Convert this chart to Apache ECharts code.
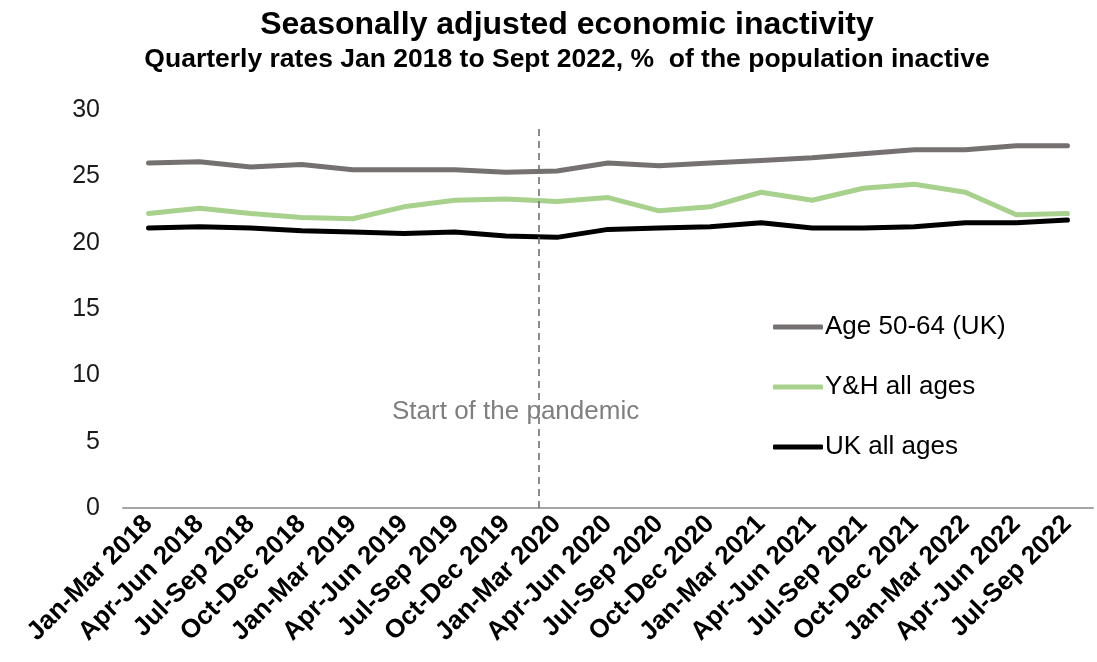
<!DOCTYPE html>
<html>
<head>
<meta charset="utf-8">
<script src="https://cdn.jsdelivr.net/npm/echarts@6/dist/echarts.min.js"></script>
<style>
  html, body { margin: 0; padding: 0; background: #ffffff; }
  #chart { width: 1097px; height: 662px; }
</style>
</head>
<body>
<div id="chart"></div>
<script>
// Quarter labels, Jan 2018 to Sep 2022
const quarters = [
  'Jan-Mar 2018', 'Apr-Jun 2018', 'Jul-Sep 2018', 'Oct-Dec 2018',
  'Jan-Mar 2019', 'Apr-Jun 2019', 'Jul-Sep 2019', 'Oct-Dec 2019',
  'Jan-Mar 2020', 'Apr-Jun 2020', 'Jul-Sep 2020', 'Oct-Dec 2020',
  'Jan-Mar 2021', 'Apr-Jun 2021', 'Jul-Sep 2021', 'Oct-Dec 2021',
  'Jan-Mar 2022', 'Apr-Jun 2022', 'Jul-Sep 2022'
];

// Inactivity rates, % of population
const age5064UK = [26.0, 26.1, 25.7, 25.9, 25.5, 25.5, 25.5, 25.3, 25.4, 26.0,
                   25.8, 26.0, 26.2, 26.4, 26.7, 27.0, 27.0, 27.3, 27.3];
const yhAllAges = [22.2, 22.6, 22.2, 21.9, 21.8, 22.7, 23.2, 23.3, 23.1, 23.4,
                   22.4, 22.7, 23.8, 23.2, 24.1, 24.4, 23.8, 22.1, 22.2];
const ukAllAges = [21.1, 21.2, 21.1, 20.9, 20.8, 20.7, 20.8, 20.5, 20.4, 21.0,
                   21.1, 21.2, 21.5, 21.1, 21.1, 21.2, 21.5, 21.5, 21.7];

const seriesNames = ['Age 50-64 (UK)', 'Y&H all ages', 'UK all ages'];
const yTicks = { min: 0, max: 30, step: 5 };

// Pandemic marker: position on the quarter scale (index units) and its height
const pandemicPos = 7.64;
const pandemicTop = 28.6;
const pandemicLabel = 'Start of the pandemic';

const FONT = '"Liberation Sans", Arial, sans-serif';
const colors = ['#767171', '#a9d18e', '#000000'];

const chart = echarts.init(document.getElementById('chart'), null, { renderer: 'canvas' });

const lineSeries = (name, data, color) => ({
  name: name,
  type: 'line',
  data: data,
  xAxisIndex: 0,
  symbol: 'none',
  smooth: false,
  lineStyle: { color: color, width: 5, cap: 'round', join: 'round' },
  itemStyle: { color: color },
  z: 3
});

chart.setOption({
  animation: false,
  backgroundColor: '#ffffff',
  title: [
    {
      text: 'Seasonally adjusted economic inactivity',
      left: 562, top: 4, textAlign: 'center',
      textStyle: { fontFamily: FONT, fontWeight: 'bold', fontSize: 32, color: '#000' }
    },
    {
      text: 'Quarterly rates Jan 2018 to Sept 2022, %  of the population inactive',
      left: 562, top: 41, textAlign: 'center',
      textStyle: { fontFamily: FONT, fontWeight: 'bold', fontSize: 26.5, color: '#000' }
    }
  ],
  legend: {
    orient: 'vertical',
    left: 768,
    top: 309,
    data: seriesNames,
    icon: 'roundRect',
    itemWidth: 50,
    itemHeight: 5,
    itemGap: 34,
    textStyle: { fontFamily: FONT, fontSize: 26, color: '#000', padding: [0, 0, 0, -3] }
  },
  grid: { left: 123, right: 4, top: 110, bottom: 154, containLabel: false },
  xAxis: [
    {
      type: 'category',
      data: quarters,
      boundaryGap: true,
      axisLine: { show: true, lineStyle: { color: '#a6a6a6', width: 2 } },
      axisTick: { show: false },
      splitLine: { show: false },
      axisLabel: {
        interval: 0,
        rotate: 45,
        margin: 12,
        fontFamily: FONT,
        fontWeight: 'bold',
        fontSize: 26,
        color: '#000'
      }
    },
    {
      type: 'value',
      min: -0.5,
      max: quarters.length - 0.5,
      show: false
    }
  ],
  yAxis: {
    type: 'value',
    min: yTicks.min,
    max: yTicks.max,
    interval: yTicks.step,
    axisLine: { show: false },
    axisTick: { show: false },
    splitLine: { show: false },
    axisLabel: { fontFamily: FONT, fontSize: 25, color: '#1a1a1a', margin: 23 }
  },
  series: [
    lineSeries(seriesNames[0], age5064UK, colors[0]),
    lineSeries(seriesNames[1], yhAllAges, colors[1]),
    lineSeries(seriesNames[2], ukAllAges, colors[2]),
    {
      name: 'pandemic',
      type: 'line',
      xAxisIndex: 1,
      data: [],
      silent: true,
      markLine: {
        silent: true,
        symbol: ['none', 'none'],
        label: { show: false },
        lineStyle: { color: '#6f6f6f', width: 1.6, type: [7, 5] },
        data: [[{ coord: [pandemicPos, 0] }, { coord: [pandemicPos, pandemicTop] }]]
      },
      markPoint: {
        silent: true,
        symbol: 'rect',
        symbolSize: 0,
        label: {
          show: true,
          formatter: pandemicLabel,
          fontFamily: FONT,
          fontSize: 26,
          color: '#7f7f7f'
        },
        data: [{ coord: [pandemicPos - 0.45, 7.25] }]
      }
    }
  ]
});
</script>
</body>
</html>
